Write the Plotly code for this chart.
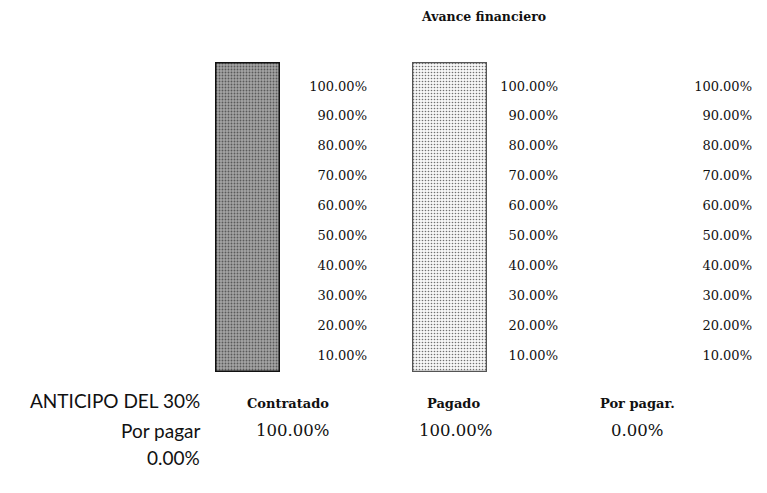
import plotly.graph_objects as go

# ---- data ----
categories = ["Contratado", "Pagado", "Por pagar."]
values = [1.0, 1.0, 0.0]
tick_vals = [0.1, 0.2, 0.3, 0.4, 0.5, 0.6, 0.7, 0.8, 0.9, 1.0]
tick_text = ["10.00%", "20.00%", "30.00%", "40.00%", "50.00%",
             "60.00%", "70.00%", "80.00%", "90.00%", "100.00%"]
title_text = "Avance financiero"
left_labels = ["ANTICIPO DEL 30%", "Por pagar", "0.00%"]

# page has an 8px body margin; map page pixels to paper coords
OFF = 8
W, H = 767 - 2 * OFF, 493 - 2 * OFF
def xp(px): return (px - OFF) / W
def yp(py): return 1 - (py - OFF) / H

bar_cols = [(215, 280), (412, 487), (610, 685)]
tick_right = [365, 556, 750]
bar_top, bar_bot = 62, 372
t100, t10 = 86, 355
ppu = (t10 - t100) / 0.9
rng_hi = 1.0 + (t100 - bar_top) / ppu
rng_lo = 0.1 - (bar_bot - t10) / ppu

styles = [
    dict(bg="#a4a4a4", fg="#5a5a5a", shape=".", size=3, solid=0.3, line="#111111", lw=3),
    dict(bg="#f6f6f6", fg="#707070", shape=".", size=3, solid=0.22, line="#555555", lw=2.5),
    dict(bg="#ffffff", fg="#ffffff", shape="", size=3, solid=0.3, line="#ffffff", lw=0),
]

fig = go.Figure()
for i, (cat, v) in enumerate(zip(categories, values)):
    s = styles[i]
    n = "" if i == 0 else str(i + 1)
    fig.add_trace(go.Bar(
        x=[cat], y=[v], width=1.0,
        xaxis="x" + n, yaxis="y" + n,
        marker=dict(color=s["bg"],
                    line=dict(color=s["line"], width=s["lw"]),
                    pattern=dict(shape=s["shape"], fgcolor=s["fg"], bgcolor=s["bg"],
                                 size=s["size"], solidity=s["solid"], fillmode="replace")),
        showlegend=False, hoverinfo="skip"))

layout = dict(
    width=W, height=H, margin=dict(l=0, r=0, t=0, b=0),
    paper_bgcolor="white", plot_bgcolor="rgba(0,0,0,0)", showlegend=False,
)
for i, (a, b) in enumerate(bar_cols):
    n = "" if i == 0 else str(i + 1)
    layout["xaxis" + n] = dict(domain=[xp(a), xp(b)], range=[-0.5, 0.5], visible=False,
                               anchor="y" + n)
    layout["yaxis" + n] = dict(domain=[yp(bar_bot), yp(bar_top)], range=[0, 1], visible=False,
                               anchor="x" + n)
for i, r in enumerate(tick_right):
    layout["yaxis" + str(i + 4)] = dict(
        overlaying="y", anchor="free", position=xp(r + 2), side="left",
        range=[rng_lo, rng_hi], tickvals=tick_vals, ticktext=tick_text,
        showgrid=False, zeroline=False, showline=False, ticks="",
        tickfont=dict(family="DejaVu Serif", size=13, color="#111"))
fig.update_layout(**layout)
for i in range(3):
    fig.add_trace(go.Scatter(x=[None], y=[None], yaxis="y" + str(i + 4), xaxis="x",
                             showlegend=False, hoverinfo="skip"))

def note(text, x, y, font, xanchor="center"):
    return dict(text=text, x=xp(x), y=yp(y), xref="paper", yref="paper",
                xanchor=xanchor, yanchor="middle", showarrow=False, font=font)

ann = [note("<b>" + title_text + "</b>", 483, 17,
            dict(family="DejaVu Serif", size=12.5, color="#111"))]
cat_x = [288, 453, 637]
val_x = [292, 455, 637]
for c, v, cx, vx in zip(categories, values, cat_x, val_x):
    ann.append(note("<b>" + c + "</b>", cx, 403,
                    dict(family="DejaVu Serif", size=13, color="#111")))
    ann.append(note(f"{v:.2%}", vx, 430,
                    dict(family="DejaVu Serif", size=16.5, color="#111")))
for lbl, yy in zip(left_labels, [400, 430, 457]):
    ann.append(note(lbl, 202, yy, dict(family="Lato", size=19, color="#111"), xanchor="right"))
fig.update_layout(annotations=ann)

fig.write_html("out.html")
